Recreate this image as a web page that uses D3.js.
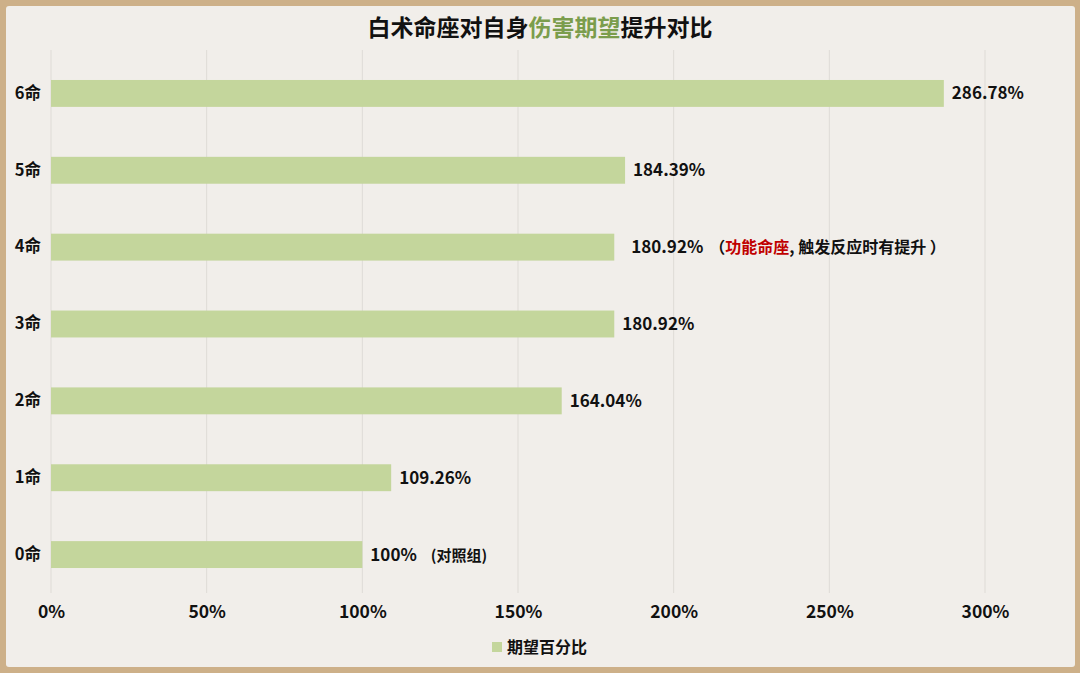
<!DOCTYPE html>
<html>
<head>
<meta charset="utf-8">
<script src="https://cdn.jsdelivr.net/npm/d3@7"></script>
<style>
  html, body { margin: 0; padding: 0; background: #cdb089; }
  svg { display: block; }
  text { font-family: "Noto Sans CJK SC", "Noto Sans", sans-serif; font-weight: bold; }
</style>
</head>
<body>
<div id="chart"></div>
<script>
// data
var categories = ["6命", "5命", "4命", "3命", "2命", "1命", "0命"];
var values = [286.78, 184.39, 180.92, 180.92, 164.04, 109.26, 100];
var valueLabels = ["286.78%", "184.39%", "180.92%", "180.92%", "164.04%", "109.26%", "100%"];
var tickValues = [0, 50, 100, 150, 200, 250, 300];
var seriesName = "期望百分比";

var svgWidth = 1080;
var svgHeight = 673;
var margin = { top: 55, right: 95, bottom: 80, left: 51 };
var chartWidth = 985 - margin.left;
var chartHeight = 593 - margin.top;

var svg = d3.select("#chart")
  .append("svg")
  .attr("width", svgWidth)
  .attr("height", svgHeight);

// frame
svg.append("rect")
  .attr("x", 0).attr("y", 0)
  .attr("width", svgWidth).attr("height", svgHeight)
  .attr("fill", "#cdb089");
svg.append("rect")
  .attr("x", 6).attr("y", 6)
  .attr("width", svgWidth - 11).attr("height", svgHeight - 12)
  .attr("rx", 3)
  .attr("fill", "#f1eeea");

// title
var title = svg.append("text")
  .attr("x", 540)
  .attr("y", 36)
  .attr("text-anchor", "middle")
  .attr("font-size", "23px")
  .attr("fill", "#111");
title.append("tspan").text("白术命座对自身");
title.append("tspan").attr("fill", "#7b9d4c").text("伤害期望");
title.append("tspan").text("提升对比");

var chartGroup = svg.append("g")
  .attr("transform", `translate(${margin.left}, ${margin.top})`);

var xScale = d3.scaleLinear()
  .domain([0, 300])
  .range([0, chartWidth]);

var yScale = d3.scaleBand()
  .domain(categories)
  .range([0, chartHeight])
  .paddingInner(0.65)
  .paddingOuter(0.325);

// gridlines
chartGroup.append("g")
  .selectAll("line")
  .data(tickValues)
  .enter()
  .append("line")
  .attr("x1", d => xScale(d))
  .attr("x2", d => xScale(d))
  .attr("y1", -5)
  .attr("y2", chartHeight)
  .attr("stroke", "#dedbd6")
  .attr("stroke-width", 1);

// x axis
var xAxis = d3.axisBottom(xScale)
  .tickValues(tickValues)
  .tickSize(0)
  .tickPadding(13)
  .tickFormat(d => d + "%");

chartGroup.append("g")
  .attr("transform", `translate(0, ${chartHeight})`)
  .call(xAxis)
  .call(g => g.select(".domain").remove())
  .selectAll("text")
  .attr("font-size", "17.5px")
  .attr("fill", "#111")
  .style("font-family", "'Noto Sans CJK SC', sans-serif")
  .style("font-weight", "bold");

// y axis
var yAxis = d3.axisLeft(yScale).tickSize(0).tickPadding(10);
chartGroup.append("g")
  .call(yAxis)
  .call(g => g.select(".domain").remove())
  .selectAll("text")
  .attr("font-size", "16.5px")
  .attr("fill", "#111")
  .style("font-family", "'Noto Sans CJK SC', sans-serif")
  .style("font-weight", "bold");

// bars
chartGroup.selectAll(".bar")
  .data(categories)
  .enter()
  .append("rect")
  .attr("class", "bar")
  .attr("x", xScale(0))
  .attr("y", d => yScale(d))
  .attr("width", (d, i) => xScale(values[i]) - xScale(0))
  .attr("height", yScale.bandwidth())
  .attr("fill", "#c4d69c");

// value labels
var labels = chartGroup.selectAll(".vlabel")
  .data(categories)
  .enter()
  .append("text")
  .attr("class", "vlabel")
  .attr("x", (d, i) => xScale(values[i]) + (d === "4命" ? 17 : 8))
  .attr("y", d => yScale(d) + yScale.bandwidth() / 2)
  .attr("dy", "0.35em")
  .attr("font-size", "17px")
  .attr("fill", "#111")
  .text((d, i) => valueLabels[i]);

labels.filter(d => d === "0命")
  .append("tspan")
  .attr("dx", 14)
  .attr("font-size", "15px")
  .text("(对照组)");

labels.filter(d => d === "4命")
  .each(function() {
    var t = d3.select(this);
    t.append("tspan").attr("dx", 6).attr("font-size", "16px").text("（");
    t.append("tspan").attr("font-size", "16px").attr("fill", "#c00000").text("功能命座");
    t.append("tspan").attr("font-size", "16px").text(", 触发反应时有提升 ）");
  });

// legend
var legend = svg.append("g")
  .attr("transform", "translate(492, 642)");
legend.append("rect")
  .attr("width", 10)
  .attr("height", 10)
  .attr("fill", "#c4d69c");
legend.append("text")
  .attr("x", 15)
  .attr("y", 5)
  .attr("dy", "0.35em")
  .attr("font-size", "16px")
  .attr("fill", "#111")
  .text(seriesName);
</script>
</body>
</html>
